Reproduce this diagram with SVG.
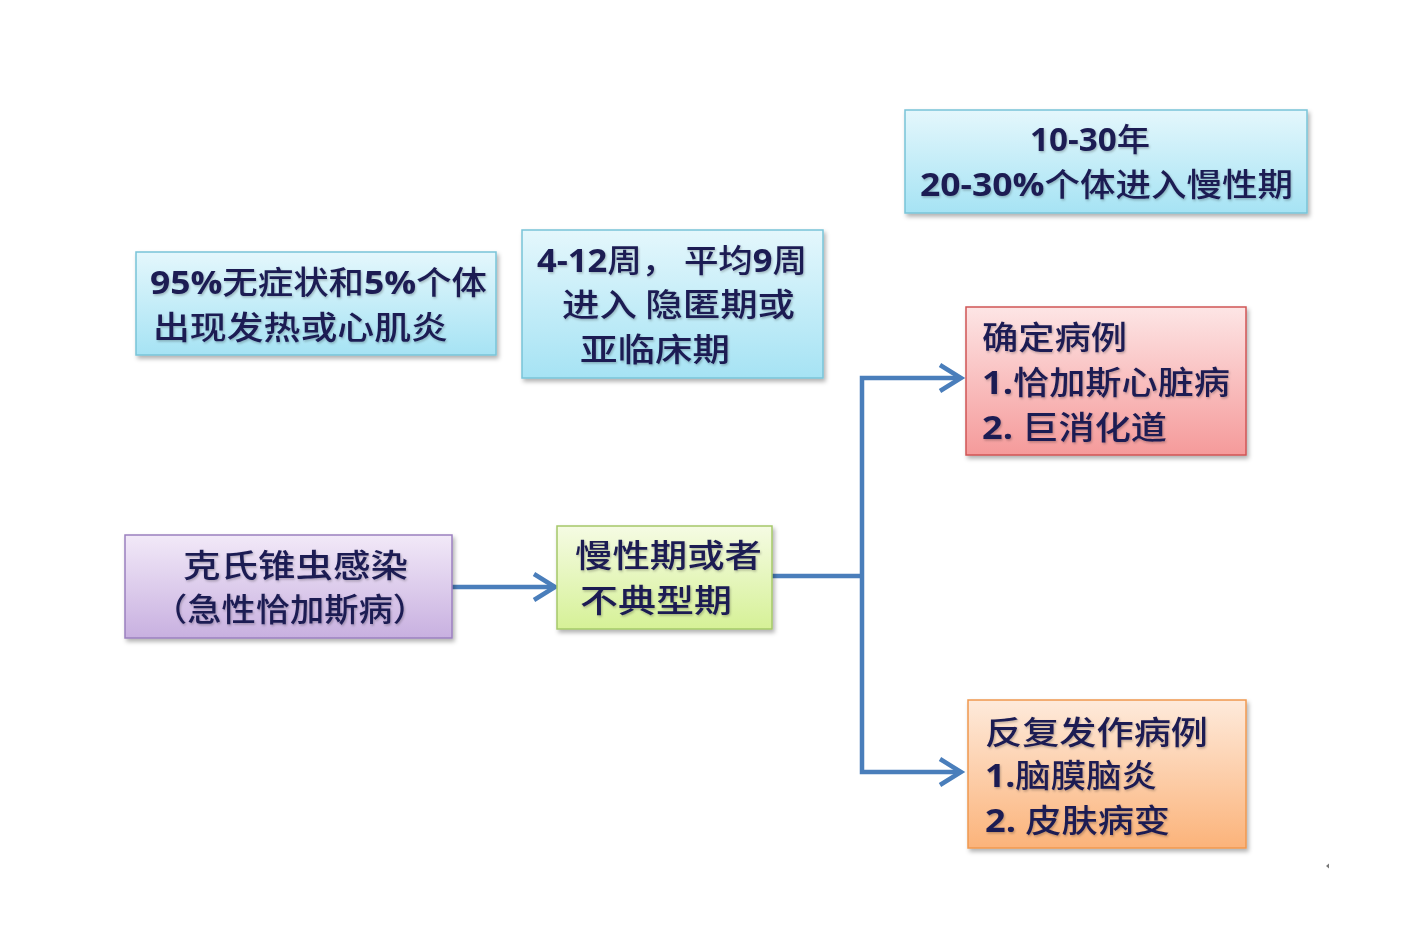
<svg xmlns="http://www.w3.org/2000/svg" width="1417" height="945" viewBox="0 0 1417 945">
<style>
.t{font-family:"Noto Sans CJK SC","Noto Sans",sans-serif;font-size:32px;font-weight:500;fill:#1b1b52;filter:url(#ts)}
.b{font-family:"Open Sans","Noto Sans CJK SC",sans-serif;font-weight:bold}
.box{stroke-width:1.5;filter:url(#sh)}
.con{fill:none;stroke:#4a7ebb;stroke-width:4.5;stroke-linejoin:miter}
.arr{marker-end:url(#ah)}
</style>
<defs>
<filter id="sh" x="-5%" y="-5%" width="112%" height="118%"><feDropShadow dx="2" dy="3" stdDeviation="2" flood-color="#000" flood-opacity="0.3"/></filter>
<filter id="ts" x="-5%" y="-20%" width="110%" height="150%"><feDropShadow dx="1" dy="1.5" stdDeviation="0.8" flood-color="#000" flood-opacity="0.25"/></filter>
<linearGradient id="gBlue" x1="0" y1="0" x2="0" y2="1"><stop offset="0" stop-color="#e4f7fc"/><stop offset="1" stop-color="#a6e3f4"/></linearGradient>
<linearGradient id="gPurple" x1="0" y1="0" x2="0" y2="1"><stop offset="0" stop-color="#f2e9f8"/><stop offset="1" stop-color="#c8b0e0"/></linearGradient>
<linearGradient id="gGreen" x1="0" y1="0" x2="0" y2="1"><stop offset="0" stop-color="#f5fbe3"/><stop offset="1" stop-color="#d6f197"/></linearGradient>
<linearGradient id="gRed" x1="0" y1="0" x2="0" y2="1"><stop offset="0" stop-color="#fde5e5"/><stop offset="1" stop-color="#f59a9a"/></linearGradient>
<linearGradient id="gOrange" x1="0" y1="0" x2="0" y2="1"><stop offset="0" stop-color="#feeadb"/><stop offset="1" stop-color="#fbb37a"/></linearGradient>
<marker id="ah" markerUnits="userSpaceOnUse" markerWidth="32" markerHeight="32" refX="25" refY="15" orient="auto" overflow="visible">
<path d="M4,2 L25,15 L4,28" fill="none" stroke="#4a7ebb" stroke-width="4.5"/>
</marker>
</defs>
<rect width="1417" height="945" fill="#fff"/>

<g id="connectors">
<path class="con arr" d="M452,587 H555"/>
<path class="con" d="M772,576 H862"/>
<path class="con arr" d="M862,576 V378 H961"/>
<path class="con arr" d="M862,576 V772 H961"/>
</g>

<g id="node-asymptomatic">
<rect class="box" x="136" y="252" width="360" height="103" fill="url(#gBlue)" stroke="#78c4d8"/>
<text class="t" x="150" y="294" textLength="337" lengthAdjust="spacingAndGlyphs"><tspan class="b">95%</tspan>无症状和<tspan class="b">5%</tspan>个体</text>
<text class="t" x="153" y="339" textLength="295" lengthAdjust="spacingAndGlyphs">出现发热或心肌炎</text>
</g>

<g id="node-latent">
<rect class="box" x="522" y="230" width="301" height="148" fill="url(#gBlue)" stroke="#78c4d8"/>
<text class="t" x="537" y="272" textLength="270" lengthAdjust="spacingAndGlyphs"><tspan class="b">4-12</tspan>周， 平均<tspan class="b">9</tspan>周</text>
<text class="t" x="562" y="316" textLength="233" lengthAdjust="spacingAndGlyphs">进入 隐匿期或</text>
<text class="t" x="580" y="361" textLength="150" lengthAdjust="spacingAndGlyphs">亚临床期</text>
</g>

<g id="node-years">
<rect class="box" x="905" y="110" width="402" height="103" fill="url(#gBlue)" stroke="#78c4d8"/>
<text class="t" x="1030" y="151" textLength="120" lengthAdjust="spacingAndGlyphs"><tspan class="b">10-30</tspan>年</text>
<text class="t" x="920" y="196" textLength="373" lengthAdjust="spacingAndGlyphs"><tspan class="b">20-30%</tspan>个体进入慢性期</text>
</g>

<g id="node-infection">
<rect class="box" x="125" y="535" width="327" height="103" fill="url(#gPurple)" stroke="#9b80bf"/>
<text class="t" x="183" y="577" textLength="225" lengthAdjust="spacingAndGlyphs">克氏锥虫感染</text>
<text class="t" x="153" y="621" textLength="274" lengthAdjust="spacingAndGlyphs">（急性恰加斯病）</text>
</g>

<g id="node-chronic">
<rect class="box" x="557" y="526" width="215" height="103" fill="url(#gGreen)" stroke="#a5c86a"/>
<text class="t" x="575" y="567" textLength="187" lengthAdjust="spacingAndGlyphs">慢性期或者</text>
<text class="t" x="580" y="612" textLength="152" lengthAdjust="spacingAndGlyphs">不典型期</text>
</g>

<g id="node-confirmed">
<rect class="box" x="966" y="307" width="280" height="148" fill="url(#gRed)" stroke="#d05555"/>
<text class="t" x="982" y="349" textLength="145" lengthAdjust="spacingAndGlyphs">确定病例</text>
<text class="t" x="982" y="394" textLength="248" lengthAdjust="spacingAndGlyphs"><tspan class="b">1.</tspan>恰加斯心脏病</text>
<text class="t" x="982" y="439" textLength="185" lengthAdjust="spacingAndGlyphs"><tspan class="b">2. </tspan>巨消化道</text>
</g>

<g id="node-relapse">
<rect class="box" x="968" y="700" width="278" height="148" fill="url(#gOrange)" stroke="#f0984f"/>
<text class="t" x="985" y="744" textLength="223" lengthAdjust="spacingAndGlyphs">反复发作病例</text>
<text class="t" x="985" y="787" textLength="172" lengthAdjust="spacingAndGlyphs"><tspan class="b">1.</tspan>脑膜脑炎</text>
<text class="t" x="985" y="832" textLength="185" lengthAdjust="spacingAndGlyphs"><tspan class="b">2. </tspan>皮肤病变</text>
</g>

<polygon points="1326,866 1329,863.5 1329,868.5" fill="#777"/>
</svg>
